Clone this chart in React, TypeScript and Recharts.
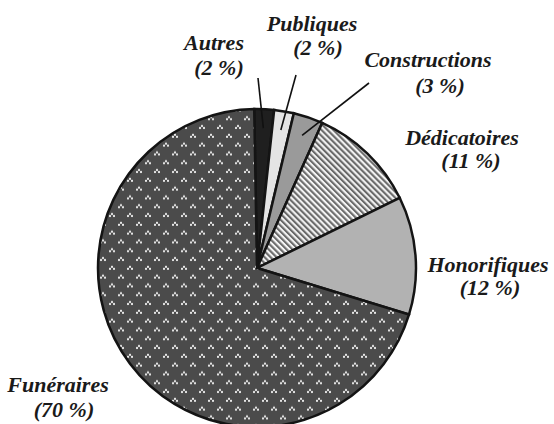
import { Cell, Pie, PieChart } from "recharts";

const categories = [
  "Autres",
  "Publiques",
  "Constructions",
  "Dédicatoires",
  "Honorifiques",
  "Funéraires",
];
const shares = [2, 2, 3, 11, 12, 70];
const shareLabels = ["(2 %)", "(2 %)", "(3 %)", "(11 %)", "(12 %)", "(70 %)"];

const fills = [
  "#1f1f1f",
  "#e4e4e4",
  "#9a9a9a",
  "url(#stripes)",
  "#b2b2b2",
  "url(#dots)",
];

// label placement, offsets from the pie centre (name line, share line, leader end)
const labelLayout = [
  { name: [-43, -218], share: [-38, -193], lead: [1, -190] },
  { name: [55, -237], share: [61, -213], lead: [39, -193] },
  { name: [171, -201], share: [183, -175], lead: [112, -185] },
  { name: [205, -123], share: [214, -100], lead: null },
  { name: [231, 4], share: [233, 27], lead: null },
  { name: [-199, 124], share: [-193, 149], lead: null },
];

const data = categories.map((name, i) => ({ name, value: shares[i] }));

const RAD = Math.PI / 180;

const labelStyle = {
  fontFamily: "'Liberation Serif', serif",
  fontStyle: "italic",
  fontWeight: 700,
  fontSize: 22,
  fill: "#1a1a1a",
};

function renderLabel(props: any) {
  const { cx, cy, midAngle, index } = props;
  const layout = labelLayout[index];
  const sx = cx + 140 * Math.cos(-midAngle * RAD);
  const sy = cy + 140 * Math.sin(-midAngle * RAD);
  return (
    <g key={`label-${index}`}>
      {layout.lead && (
        <line
          x1={sx}
          y1={sy}
          x2={cx + layout.lead[0]}
          y2={cy + layout.lead[1]}
          stroke="#111"
          strokeWidth={1.6}
        />
      )}
      <text
        x={cx + layout.name[0]}
        y={cy + layout.name[1]}
        textAnchor="middle"
        style={labelStyle}
      >
        {categories[index]}
      </text>
      <text
        x={cx + layout.share[0]}
        y={cy + layout.share[1]}
        textAnchor="middle"
        style={labelStyle}
      >
        {shareLabels[index]}
      </text>
    </g>
  );
}

export default function App() {
  return (
    <div style={{ width: 554, height: 424, background: "#fff" }}>
      <style>{"body{margin:0}"}</style>
      <PieChart
        width={554}
        height={424}
        margin={{ top: 0, right: 0, bottom: 0, left: 0 }}
      >
        <defs>
          <pattern
            id="stripes"
            width="4.2"
            height="4.2"
            patternUnits="userSpaceOnUse"
            patternTransform="rotate(-45)"
          >
            <rect width="4.2" height="4.2" fill="#f4f4f4" />
            <rect width="2.1" height="4.2" fill="#6a6a6a" />
          </pattern>
          <pattern
            id="dots"
            width="18"
            height="17.6"
            patternUnits="userSpaceOnUse"
          >
            <rect width="18" height="17.6" fill="#4b4b4b" />
            <g fill="#e6e6e6">
              <rect x="3" y="1.8" width="2" height="2" />
              <rect x="1" y="3.8" width="2" height="2" />
              <rect x="5" y="3.8" width="2" height="2" />
              <rect x="12" y="10.6" width="2" height="2" />
              <rect x="10" y="12.6" width="2" height="2" />
              <rect x="14" y="12.6" width="2" height="2" />
            </g>
          </pattern>
        </defs>
        <Pie
          data={data}
          dataKey="value"
          nameKey="name"
          cx={257}
          cy={268}
          outerRadius={159}
          startAngle={91}
          endAngle={-269}
          stroke="#141414"
          strokeWidth={2.5}
          labelLine={false}
          label={renderLabel}
          isAnimationActive={false}
        >
          {data.map((d, i) => (
            <Cell key={d.name} fill={fills[i]} />
          ))}
        </Pie>
      </PieChart>
    </div>
  );
}
